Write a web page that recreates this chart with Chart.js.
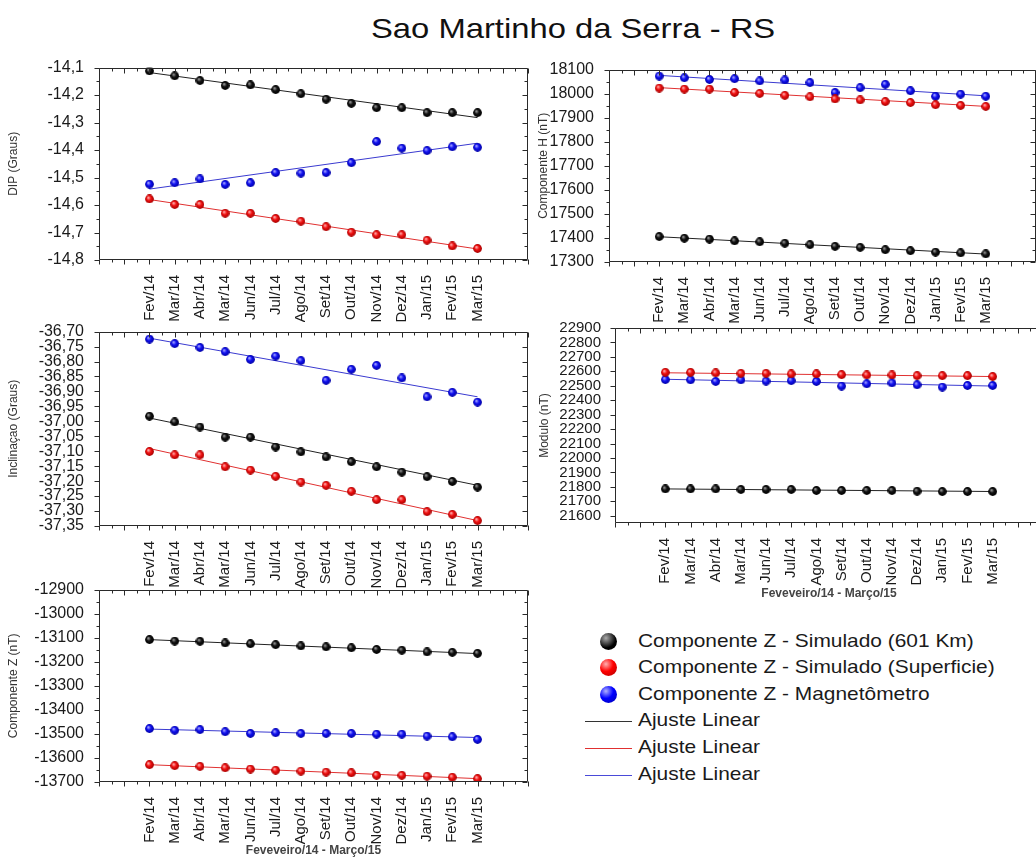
<!DOCTYPE html>
<html>
<head>
<meta charset="utf-8">
<script src="https://cdn.jsdelivr.net/npm/chart.js@4.4.1/dist/chart.umd.min.js"></script>
<style>
  body { margin: 0; width: 1036px; height: 860px; overflow: hidden; background: #fff; position: relative;
         font-family: 'Liberation Sans', Arial, sans-serif; color: #1a1a1a; }
  canvas.panel { position: absolute; }
  #title { position: absolute; top: 13px; left: 371px; font-size: 28px; color: #111; white-space: nowrap;
           transform: scaleX(1.17); transform-origin: left center; }
  .leg { position: absolute; left: 638px; font-size: 19px; line-height: 22px; color: #1a1a1a; white-space: nowrap;
         transform: scaleX(1.1); transform-origin: left center; }
  .ball { position: absolute; left: 600px; width: 17px; height: 17px; border-radius: 50%; }
  .fitline { position: absolute; left: 585px; width: 47px; height: 1px; }
</style>
</head>
<body>
<div id="title">Sao Martinho da Serra - RS</div>

<canvas id="pDip" class="panel"></canvas>
<canvas id="pH" class="panel"></canvas>
<canvas id="pInc" class="panel"></canvas>
<canvas id="pMod" class="panel"></canvas>
<canvas id="pZ" class="panel"></canvas>

<div class="ball" style="top:633px; background: radial-gradient(circle at 35% 30%, #aaa, #000 60%);"></div>
<div class="leg" style="top:630px">Componente Z - Simulado (601 Km)</div>
<div class="ball" style="top:659px; background: radial-gradient(circle at 35% 30%, #ffb0b0, #f00 45%, #a00);"></div>
<div class="leg" style="top:656px">Componente Z - Simulado (Superficie)</div>
<div class="ball" style="top:686px; background: radial-gradient(circle at 35% 30%, #b0b0ff, #00f 45%, #00a);"></div>
<div class="leg" style="top:683px">Componente Z - Magnetômetro</div>
<div class="fitline" style="top:721px; background:#333;"></div>
<div class="leg" style="top:709px">Ajuste Linear</div>
<div class="fitline" style="top:748px; background:#e03030;"></div>
<div class="leg" style="top:736px">Ajuste Linear</div>
<div class="fitline" style="top:775px; background:#4a4ad8;"></div>
<div class="leg" style="top:763px">Ajuste Linear</div>

<script>
const months = ['Fev/14', 'Mar/14', 'Abr/14', 'Mar/14', 'Jun/14', 'Jul/14', 'Ago/14',
                'Set/14', 'Out/14', 'Nov/14', 'Dez/14', 'Jan/15', 'Fev/15', 'Mar/15'];

// DIP (Graus)
const dipSim601 = [-14.112, -14.13, -14.147, -14.165, -14.163, -14.18, -14.195, -14.215, -14.23, -14.246, -14.246, -14.264, -14.264, -14.264];
const dipSimSup = [-14.578, -14.598, -14.598, -14.63, -14.63, -14.649, -14.659, -14.679, -14.699, -14.708, -14.708, -14.728, -14.749, -14.758];
const dipMag    = [-14.524, -14.519, -14.505, -14.525, -14.519, -14.482, -14.484, -14.482, -14.446, -14.369, -14.393, -14.402, -14.388, -14.39];
const dipFit601 = [-14.118, -14.282];
const dipFitSup = [-14.58, -14.76];
const dipFitMag = [-14.542, -14.375];
const dipTicks  = [-14.8, -14.7, -14.6, -14.5, -14.4, -14.3, -14.2, -14.1];

// Componente H (nT)
const hSim601 = [17406, 17399, 17395, 17388, 17384, 17378, 17372, 17365, 17361, 17351, 17347, 17341, 17338, 17334];
const hSimSup = [18023, 18019, 18019, 18005, 18001, 17993, 17987, 17978, 17974, 17967, 17963, 17954, 17951, 17947];
const hMag    = [18073, 18066, 18059, 18062, 18053, 18057, 18046, 18005, 18025, 18039, 18012, 17989, 17998, 17989];
const hFit601 = [17405, 17333];
const hFitSup = [18025, 17947];
const hFitMag = [18076, 17991];
const hTicks  = [17300, 17400, 17500, 17600, 17700, 17800, 17900, 18000, 18100];

// Inclinacao (Graus)
const incSim601 = [-36.983, -37.002, -37.019, -37.053, -37.053, -37.086, -37.102, -37.119, -37.135, -37.152, -37.17, -37.185, -37.201, -37.22];
const incSimSup = [-37.101, -37.112, -37.112, -37.152, -37.163, -37.184, -37.203, -37.214, -37.234, -37.262, -37.262, -37.302, -37.311, -37.332];
const incMag    = [-36.725, -36.74, -36.753, -36.767, -36.793, -36.782, -36.797, -36.863, -36.826, -36.813, -36.855, -36.918, -36.903, -36.936];
const incFit601 = [-36.989, -37.214];
const incFitSup = [-37.091, -37.332];
const incFitMag = [-36.722, -36.918];
const incTicks  = [-37.35, -37.3, -37.25, -37.2, -37.15, -37.1, -37.05, -37.0, -36.95, -36.9, -36.85, -36.8, -36.75, -36.7];

// Modulo (nT)
const modSim601 = [21786, 21786, 21786, 21782, 21782, 21782, 21775, 21775, 21775, 21775, 21770, 21768, 21768, 21768];
const modSimSup = [22593, 22593, 22589, 22586, 22586, 22582, 22582, 22577, 22575, 22575, 22570, 22570, 22570, 22564];
const modMag    = [22543, 22541, 22530, 22541, 22532, 22536, 22530, 22498, 22514, 22520, 22507, 22491, 22502, 22502];
const modFit601 = [21786, 21768];
const modFitSup = [22590, 22564];
const modFitMag = [22545, 22498];
const modTicks  = [21600, 21700, 21800, 21900, 22000, 22100, 22200, 22300, 22400, 22500, 22600, 22700, 22800, 22900];

// Componente Z (nT)
const zSim601 = [-13108, -13114, -13115, -13122, -13125, -13129, -13134, -13138, -13142, -13149, -13152, -13159, -13161, -13165];
const zSimSup = [-13628, -13632, -13635, -13641, -13646, -13651, -13655, -13659, -13662, -13672, -13672, -13676, -13680, -13686];
const zMag    = [-13478, -13485, -13482, -13491, -13498, -13495, -13498, -13498, -13498, -13501, -13501, -13509, -13512, -13523];
const zFit601 = [-13108, -13166];
const zFitSup = [-13628, -13686];
const zFitMag = [-13480, -13515];
const zTicks  = [-13700, -13600, -13500, -13400, -13300, -13200, -13100, -13000, -12900];

const FONT = "'Liberation Sans', Arial, sans-serif";

function sphere(light, base, dark) {
  const c = document.createElement('canvas');
  c.width = 9; c.height = 9;
  const g = c.getContext('2d');
  const grad = g.createRadialGradient(3.2, 3, 0.3, 4.5, 4.5, 4.6);
  grad.addColorStop(0, light);
  grad.addColorStop(0.45, base);
  grad.addColorStop(1, dark);
  g.fillStyle = grad;
  g.beginPath(); g.arc(4.5, 4.5, 4.4, 0, Math.PI * 2); g.fill();
  return c;
}
const balls = {
  black: sphere('#9a9a9a', '#111', '#000'),
  red: sphere('#ffb0b0', '#f01010', '#a00000'),
  blue: sphere('#a8a8ff', '#1010f0', '#0000a0')
};
const lineColors = { black: '#222', red: '#e03030', blue: '#3a3ad0' };

// Origin-style frame: box plus major/minor ticks, mirrored inward on top/right
const originFrame = {
  id: 'originFrame',
  afterDraw(chart, args, opts) {
    const { ctx, chartArea: a, scales: { x, y } } = chart;
    const L = Math.round(a.left) + 0.5, R = Math.round(a.right) - 0.5;
    const T = Math.round(a.top) + 0.5, B = Math.round(a.bottom) - 0.5;
    ctx.save();
    ctx.strokeStyle = '#2a2a2a';
    ctx.lineWidth = 1;
    ctx.beginPath();
    ctx.rect(L, T, R - L, B - T);
    for (let v = x.min; v <= x.max + 1e-9; v += 0.5) {
      const px = Math.round(x.getPixelForValue(v)) + 0.5;
      const len = Number.isInteger(v) ? 5 : 3;
      ctx.moveTo(px, B); ctx.lineTo(px, B + len);
      ctx.moveTo(px, T); ctx.lineTo(px, T + len);
    }
    const majors = y.ticks.map(t => t.value);
    const yTick = (v, len) => {
      const py = Math.round(y.getPixelForValue(v)) + 0.5;
      ctx.moveTo(L, py); ctx.lineTo(L - len, py);
      ctx.moveTo(R, py); ctx.lineTo(R - len, py);
    };
    majors.forEach(v => yTick(v, 5));
    if (opts.minor) {
      for (let i = 0; i < majors.length - 1; i++) yTick((majors[i] + majors[i + 1]) / 2, 3);
    }
    ctx.stroke();
    ctx.restore();
  }
};

function makePanel(id, p) {
  const padTop = 12, padRight = 12;
  const cv = document.getElementById(id);
  const w = p.yW + (p.box.r - p.box.l) + padRight;
  const h = padTop + (p.box.b - p.box.t) + p.xH;
  cv.style.left = (p.box.l - p.yW) + 'px';
  cv.style.top = (p.box.t - padTop) + 'px';
  cv.style.width = w + 'px';
  cv.style.height = h + 'px';
  cv.width = w; cv.height = h;

  const datasets = [];
  p.series.forEach(([vals, fit, col]) => {
    datasets.push({
      type: 'scatter', order: 0,
      data: vals.map((v, i) => ({ x: i, y: v })),
      pointStyle: balls[col], pointRadius: 4.5, showLine: false
    });
    datasets.push({
      type: 'line', order: 1,
      data: [{ x: 0, y: fit[0] }, { x: months.length - 1, y: fit[1] }],
      borderColor: lineColors[col], borderWidth: 1, pointRadius: 0, fill: false
    });
  });

  new Chart(cv, {
    type: 'scatter',
    data: { datasets },
    plugins: [originFrame],
    options: {
      responsive: false,
      animation: false,
      layout: { padding: { top: padTop, right: padRight, left: 0, bottom: 0 } },
      plugins: { legend: { display: false }, tooltip: { enabled: false }, originFrame: { minor: p.minor } },
      scales: {
        x: {
          type: 'linear', min: -2, max: 15,
          afterBuildTicks: s => { s.ticks = months.map((m, i) => ({ value: i })); },
          afterFit: s => { s.height = p.xH; },
          grid: { display: false }, border: { display: false },
          ticks: {
            autoSkip: false, minRotation: 90, maxRotation: 90, padding: 7,
            color: '#1a1a1a', font: { family: FONT, size: 15 },
            callback: v => months[Math.round(v)]
          },
          title: p.xTitle ? {
            display: true, text: p.xTitle, color: '#444',
            font: { family: FONT, size: 12, weight: 'bold' }, padding: { top: 0, bottom: 4 }
          } : { display: false }
        },
        y: {
          type: 'linear', min: p.yMin, max: p.yMax,
          afterBuildTicks: s => { s.ticks = p.ticks.map(v => ({ value: v })); },
          afterFit: s => { s.width = p.yW; },
          grid: { display: false }, border: { display: false },
          ticks: {
            autoSkip: false, padding: p.tickPad || 7, color: '#1a1a1a',
            font: { family: FONT, size: p.tickSize },
            callback: v => v.toFixed(p.dec).replace('.', ',')
          },
          title: {
            display: true, text: p.yTitle, color: '#333',
            font: { family: FONT, size: 12 }, padding: { top: p.titlePad || 6, bottom: 2 }
          }
        }
      }
    }
  });
}

makePanel('pDip', {
  box: { l: 99, t: 63, r: 528, b: 260 }, yW: 99, xH: 62,
  yMin: -14.8, yMax: -14.1, ticks: dipTicks, dec: 1, minor: true, tickSize: 16,
  yTitle: 'DIP (Graus)',
  series: [[dipSim601, dipFit601, 'black'], [dipSimSup, dipFitSup, 'red'], [dipMag, dipFitMag, 'blue']]
});
makePanel('pH', {
  box: { l: 609, t: 65, r: 1036, b: 262 }, yW: 79, xH: 62,
  yMin: 17300, yMax: 18100, ticks: hTicks, dec: 0, minor: true, tickSize: 16,
  yTitle: 'Componente H (nT)',
  series: [[hSim601, hFit601, 'black'], [hSimSup, hFitSup, 'red'], [hMag, hFitMag, 'blue']]
});
makePanel('pInc', {
  box: { l: 99, t: 327, r: 528, b: 526 }, yW: 99, xH: 62,
  yMin: -37.35, yMax: -36.7, ticks: incTicks, dec: 2, minor: false, tickSize: 16,
  yTitle: 'Inclinaçao (Graus)',
  series: [[incSim601, incFit601, 'black'], [incSimSup, incFitSup, 'red'], [incMag, incFitMag, 'blue']]
});
makePanel('pMod', {
  box: { l: 615, t: 325, r: 1043, b: 523 }, yW: 80, xH: 82,
  yMin: 21550, yMax: 22900, ticks: modTicks, dec: 0, minor: false, tickSize: 15, tickPad: 6, titlePad: 2,
  yTitle: 'Modulo (nT)', xTitle: 'Feveveiro/14 - Março/15',
  series: [[modSim601, modFit601, 'black'], [modSimSup, modFitSup, 'red'], [modMag, modFitMag, 'blue']]
});
makePanel('pZ', {
  box: { l: 99, t: 585, r: 528, b: 782 }, yW: 99, xH: 80,
  yMin: -13700, yMax: -12900, ticks: zTicks, dec: 0, minor: true, tickSize: 16,
  yTitle: 'Componente Z (nT)', xTitle: 'Feveveiro/14 - Março/15',
  series: [[zSim601, zFit601, 'black'], [zSimSup, zFitSup, 'red'], [zMag, zFitMag, 'blue']]
});
</script>
</body>
</html>
